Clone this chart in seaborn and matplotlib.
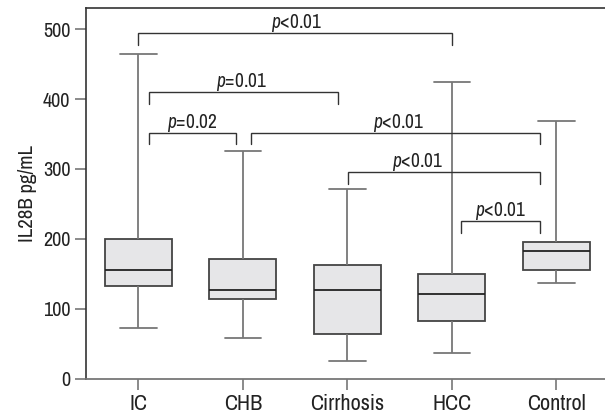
import matplotlib
matplotlib.use("Agg")
import matplotlib.pyplot as plt
import seaborn as sns
import pandas as pd

groups = ["IC", "CHB", "Cirrhosis", "HCC", "Control"]
# five-number summaries: min, Q1, median, Q3, max
ic = [73, 133, 156, 199, 465]
chb = [58, 114, 126, 171, 326]
cirrhosis = [25, 63, 126, 163, 271]
hcc = [37, 82, 121, 150, 424]
control = [136, 155, 183, 196, 368]

# significance brackets: (left x, right x, bar height, label, label x)
brackets = [
    (0.0, 3.0, 494, "<0.01", 1.51),
    (0.10, 1.915, 410, "=0.01", 0.99),
    (0.10, 0.937, 352, "=0.02", 0.52),
    (1.08, 3.845, 352, "<0.01", 2.49),
    (2.01, 3.845, 296, "<0.01", 2.67),
    (3.09, 3.845, 225, "<0.01", 3.465),
]
yticks = [0, 100, 200, 300, 400, 500]

sns.set_style("white")
FONT = "Archivo Narrow"
plt.rcParams["font.family"] = [FONT, "Roboto", "DejaVu Sans"]
plt.rcParams["mathtext.fontset"] = "custom"
plt.rcParams["mathtext.rm"] = FONT
plt.rcParams["mathtext.it"] = FONT + ":italic"

rows = []
for g, vals in zip(groups, [ic, chb, cirrhosis, hcc, control]):
    for v in vals:
        rows.append({"group": g, "value": v})
df = pd.DataFrame(rows)

fig = plt.figure(figsize=(6.05, 4.17), dpi=100)
ax = fig.add_axes([0.1417, 0.0923, 0.8583, 0.888])

sns.boxplot(
    data=df, x="group", y="value", order=groups, ax=ax,
    whis=(0, 100), width=0.64, color="#e6e6e8", linecolor="#3a3a3a",
    linewidth=1.3, capwidths=0.35,
    boxprops=dict(edgecolor="#444444"),
    whiskerprops=dict(color="#777777", linewidth=1.3),
    capprops=dict(color="#777777", linewidth=1.3),
    medianprops=dict(color="#222222", linewidth=1.3),
    showfliers=False,
)

leg = 17
for x1, x2, h, lab, tx in brackets:
    ax.plot([x1, x1, x2, x2], [h - leg, h, h, h - leg], color="#333333",
            linewidth=1.0, solid_joinstyle="miter", zorder=3)
    ax.text(tx, h + 7, r"$\mathit{p}$" + lab, ha="center", va="baseline",
            fontsize=14, color="#222222")

ax.set_xlim(-0.503, 4.466)
ax.set_ylim(0, 530)
ax.set_yticks(yticks)
ax.set_yticklabels([str(t) for t in yticks], fontsize=14.5, color="#222222")
ax.set_xticklabels(groups, fontsize=16, color="#222222")
ax.set_xlabel("")
ax.set_ylabel("IL28B pg/mL", fontsize=15, color="#222222", labelpad=4)

for s in ["left", "top"]:
    ax.spines[s].set_color("#333333")
    ax.spines[s].set_linewidth(1.2)
ax.spines["bottom"].set_color("#777777")
ax.spines["bottom"].set_linewidth(1.3)
ax.spines["right"].set_visible(False)
ax.tick_params(axis="both", direction="out", length=8, width=1.2,
               color="#777777", pad=3, left=True, bottom=True)

fig.savefig("out.png", dpi=100)
